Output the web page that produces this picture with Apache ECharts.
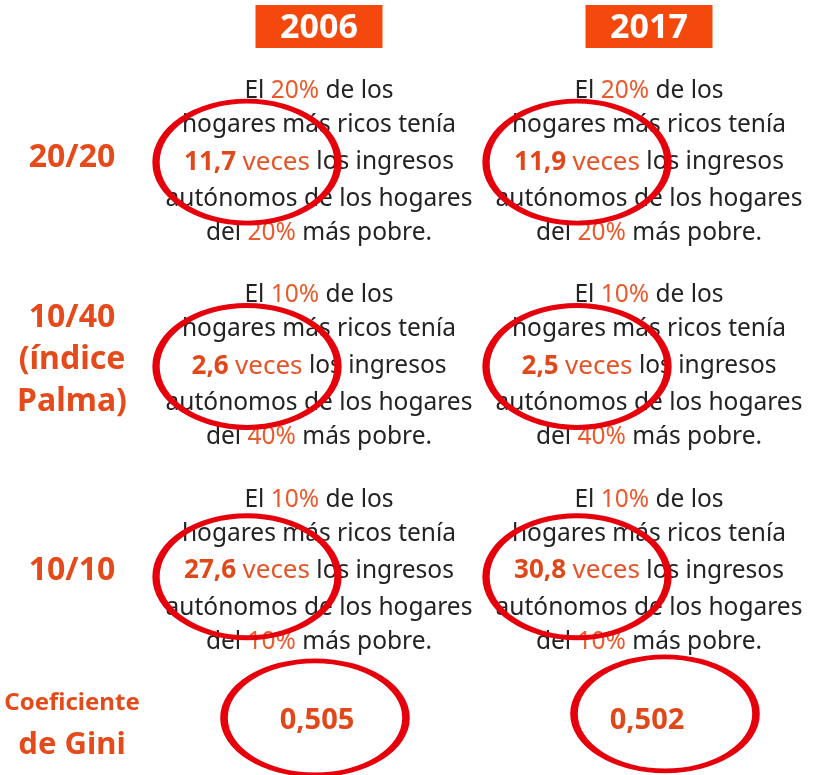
<!DOCTYPE html>
<html>
<head>
    <meta charset="utf-8">
    <title>Desigualdad 2006 - 2017</title>
    <script src="https://cdn.jsdelivr.net/npm/echarts@6/dist/echarts.min.js"></script>
    <style>
        html, body { margin: 0; padding: 0; background: #fff; }
    </style>
</head>
<body>
    <div id="main" style="width: 821px;height:775px;"></div>
    <script type="text/javascript">
        // datos
        var years = ['2006', '2017'];
        var rowNames = ['20/20', '10/40\n(índice\nPalma)', '10/10'];
        var richShare = ['20%', '10%', '10%'];   // hogares más ricos
        var poorShare = ['20%', '40%', '10%'];   // hogares más pobres
        var ratios2006 = [11.7, 2.6, 27.6];
        var ratios2017 = [11.9, 2.5, 30.8];
        var giniName = 'Coeficiente\nde Gini';
        var gini = [0.505, 0.502];

        // posición vertical de cada fila (en unidades del eje)
        var rowPos = [0, 1, 2, 2.72];
        var font = 'Noto Sans';
        var orange = '#e54b1a';
        var red = '#e6000c';
        var ellipse = 'path://M50,0C77.6,0,100,22.4,100,50C100,77.6,77.6,100,50,100C22.4,100,0,77.6,0,50C0,22.4,22.4,0,50,0Z';

        function fmt(v, d) {
            return v.toFixed(d).replace('.', ',');
        }

        var ratios = [ratios2006, ratios2017];
        var textData = [];
        var ringData = [];
        for (var j = 0; j < years.length; j++) {
            for (var i = 0; i < rowNames.length; i++) {
                textData.push({
                    value: [j, rowPos[i]],
                    txt: 'El {o|' + richShare[i] + '} de los\n' +
                        'hogares más ricos tenía\n' +
                        '{b|' + fmt(ratios[j][i], 1) + '} {v|veces} los ingresos\n' +
                        'autónomos de los hogares\n' +
                        'del {o|' + poorShare[i] + '} más pobre.'
                });
                ringData.push({ value: [j, rowPos[i]], symbolOffset: [-72, i === 2 ? 6 : 0] });
            }
        }

        var hidden = { color: 'transparent', opacity: 1 };

        var myChart = echarts.init(document.getElementById('main'));
        var option = {
            animation: false,
            grid: { left: 154, right: 7, top: 60, height: 719 },
            xAxis: {
                type: 'category',
                position: 'top',
                data: years,
                axisLine: { show: false },
                axisTick: { show: false },
                splitLine: { show: false },
                axisLabel: {
                    margin: 12,
                    color: '#fff',
                    fontFamily: font,
                    fontWeight: 'bold',
                    fontSize: 34,
                    backgroundColor: '#f4480c',
                    width: 127,
                    height: 40,
                    lineHeight: 40,
                    padding: [3, 0, 0, 0],
                    align: 'center'
                }
            },
            yAxis: {
                type: 'value',
                show: false,
                inverse: true,
                min: -0.5,
                max: 3
            },
            series: [
                {
                    // textos de cada celda
                    type: 'scatter',
                    symbolSize: 1,
                    itemStyle: hidden,
                    z: 2,
                    data: textData,
                    label: {
                        show: true,
                        position: 'inside',
                        opacity: 1,
                        formatter: function (p) { return p.data.txt; },
                        align: 'center',
                        verticalAlign: 'middle',
                        fontFamily: font,
                        fontSize: 24.5,
                        lineHeight: 34,
                        color: '#232323',
                        rich: {
                            o: { color: '#ea5a2c', fontFamily: font, fontSize: 24.5, lineHeight: 34 },
                            b: { color: '#e0481a', fontFamily: font, fontSize: 26, fontWeight: 'bold', lineHeight: 40 },
                            v: { color: '#e45428', fontFamily: font, fontSize: 26, lineHeight: 40 }
                        }
                    }
                },
                {
                    // nombres de las filas
                    type: 'scatter',
                    symbolSize: 1,
                    itemStyle: hidden,
                    z: 2,
                    data: rowNames.map(function (n, i) {
                        return { value: [0, rowPos[i] + [-0.02, -0.03, 0][i]], name: n };
                    }).concat([{ value: [0, rowPos[3] + 0.035], name: giniName, gini: true }]),
                    label: {
                        show: true,
                        position: 'inside',
                        opacity: 1,
                        offset: [-247, 0],
                        formatter: function (p) {
                            if (p.data.gini) {
                                var s = p.name.split('\n');
                                return '{c|' + s[0] + '}\n{g|' + s[1] + '}';
                            }
                            return p.name;
                        },
                        align: 'center',
                        verticalAlign: 'middle',
                        fontFamily: font,
                        fontWeight: 'bold',
                        fontSize: 32,
                        lineHeight: 42,
                        color: orange,
                        rich: {
                            c: { fontFamily: font, fontWeight: 'bold', fontSize: 24, lineHeight: 40, color: orange },
                            g: { fontFamily: font, fontWeight: 'bold', fontSize: 31, lineHeight: 44, color: orange }
                        }
                    }
                },
                {
                    // valores del coeficiente de Gini
                    type: 'scatter',
                    symbolSize: 1,
                    itemStyle: hidden,
                    z: 2,
                    data: gini.map(function (g, j) { return { value: [j, rowPos[3] + 0.012], name: fmt(g, 3) }; }),
                    label: {
                        show: true,
                        position: 'inside',
                        opacity: 1,
                        offset: [-2, 0],
                        formatter: '{b}',
                        fontFamily: font,
                        fontWeight: 'bold',
                        fontSize: 29,
                        color: '#e0481a'
                    }
                },
                {
                    // círculos rojos sobre las veces
                    type: 'scatter',
                    symbol: ellipse,
                    symbolSize: [182, 122],
                    z: 5,
                    itemStyle: { color: 'transparent', opacity: 1, borderColor: red, borderWidth: 6 },
                    data: ringData
                },
                {
                    // círculos rojos sobre el Gini
                    type: 'scatter',
                    symbol: ellipse,
                    symbolSize: [182, 114],
                    z: 5,
                    itemStyle: { color: 'transparent', opacity: 1, borderColor: red, borderWidth: 6 },
                    data: [
                        { value: [0, rowPos[3]], symbolOffset: [-4, 0] },
                        { value: [1, rowPos[3]], symbolOffset: [16, -4] }
                    ]
                }
            ]
        };
        myChart.setOption(option);
    </script>
</body>
</html>
